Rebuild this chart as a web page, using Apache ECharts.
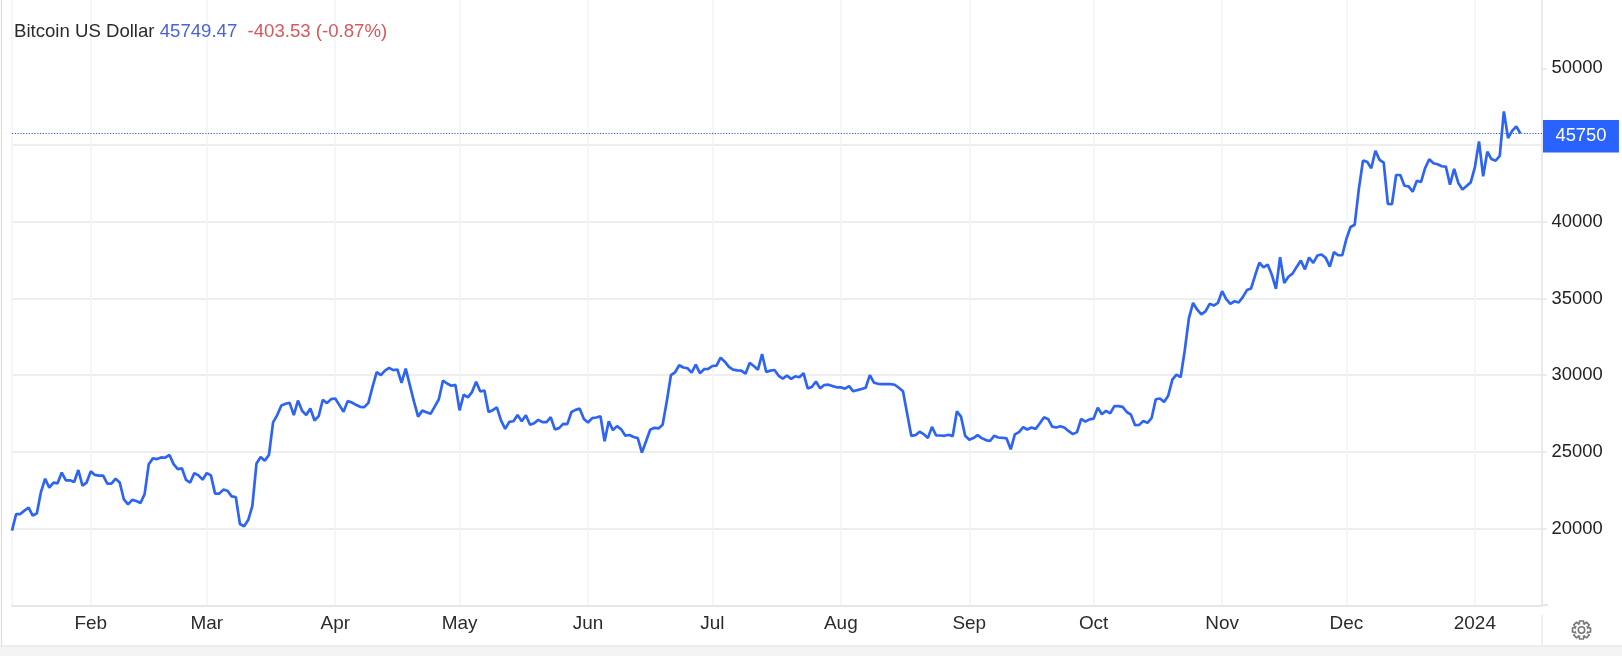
<!DOCTYPE html>
<html>
<head>
<meta charset="utf-8">
<style>html,body{margin:0;padding:0;background:#fff}#c{width:1622px;height:656px}</style>
<script src="https://cdn.jsdelivr.net/npm/echarts@6/dist/echarts.min.js"></script>
</head>
<body>
<div id="c"></div>
<script>
const startDate = '2023-01-13';
const valuesJanApr = [19870,20950,20950,21170,21370,20850,21000,22400,23250,22670,
23000,22950,23650,23150,23150,23040,23820,22800,23000,23730,
23500,23450,23450,22930,22930,23250,23000,21900,21580,21870,
21800,21670,22250,24200,24580,24530,24640,24620,24800,24200,
23880,23930,23170,23000,23620,23470,23190,23620,23470,22280,
22280,22540,22470,22100,22060,20300,20150,20560,21480,24250,
24670,24430,24800,26920,27400,28030,28140,28200,27400,28350,
27680,27400,27830,27050,27330,28400,28180,28440,28480,28050,
27620,28310,28220,28070,27940,27920,28200,29240,30200,30000,
30300,30480,30330,30370];
const valuesAprJul = [29500,30430,29350,28280,27300,27690,27590,27480,27950,28430,
29650,29460,29310,29370,27710,28730,28560,28900,29570,28940,
29000,27600,27720,27900,27050,26500,26960,27000,27410,27000,
27390,26770,26870,27090,26940,26940,27260,26470,26550,26830,
26810,27600,27740,27820,27150,26920,27200,27240,27330,25690,
27000,26420,26680,26470,26060,26100,25970,25900,24960,25690,
26440,26570,26530,26770,28280,30000,30190,30650,30500,30450,
30170,30690,30130,30390,30410,30600,30620,31140,30880,30540,
30360,30320,30300,30100,30800,30600,30360,31380,30210,30300,
30340,29960,29780,29980,29760,29930,29870];
const valuesJulOct = [30130,29140,29230,29590,29140,29360,29380,29290,29210,
29210,29120,29290,28950,29030,29100,29180,30000,29510,29440,
29420,29420,29420,29380,29180,28950,27510,26050,26090,26310,
26160,25900,26630,26070,26070,26050,26120,26030,27640,27300,
26050,25790,25900,26090,25900,25770,25710,26050,25940,25920,
25880,25170,26140,26290,26610,26460,26590,26500,26850,27250,
27150,26650,26590,26670,26570,26350,26160,26290,27150,26970,
27120,27170,27880,27450,27680,27510,27980,27980,27940,27600,
27430,26740,26760,27020,26890,27210,28430,28480,
28260,28660,29710,30040,29870,31630,33720,34710,34270,33970,34160,34650,34540,34710];
const valuesNovJan = [35480,34960,34650,34820,34740,35090,35550,35660,36530,37340,
37030,37210,36550,35630,37690,36010,36420,36620,37060,37470,
36900,37670,37320,37800,37870,37650,37080,38020,37820,37820,
38890,39660,39810,42130,43990,43910,43490,44630,44040,43860,
41170,41150,43050,43050,42350,42310,41960,42680,42590,43510,
44080,43820,43750,43620,43600,42420,43450,42530,42110,42330,
42570,43550,45240,42960,44570,44090,43980,44300,47200,45460,45930,46220,45749.47];
const monthLabels = ['Jan','Feb','Mar','Apr','May','Jun','Jul','Aug','Sep','Oct','Nov','Dec'];
const tickValues = [20000,25000,30000,35000,40000,45000,50000];
const lastLabel = '45750';
const lastLevel = 45750;
const titleName = 'Bitcoin US Dollar';
const titlePrice = '45749.47';
const titleChange = '-403.53 (-0.87%)';

const DAY = 86400000;
const t0 = Date.parse(startDate + 'T00:00:00Z');
const allValues = valuesJanApr.concat(valuesAprJul, valuesJulOct, valuesNovJan);
const seriesData = allValues.map((v, i) => [t0 + i * DAY, v]);

// gear outline
function gearPoints(cx, cy) {
  const pts = [], teeth = 8, ro = 9.2, ri = 6.6;
  for (let i = 0; i < teeth; i++) {
    const a = i * 2 * Math.PI / teeth, w = 0.2, s = 0.42;
    pts.push([cx + ri * Math.cos(a - s), cy + ri * Math.sin(a - s)]);
    pts.push([cx + ro * Math.cos(a - w), cy + ro * Math.sin(a - w)]);
    pts.push([cx + ro * Math.cos(a + w), cy + ro * Math.sin(a + w)]);
    pts.push([cx + ri * Math.cos(a + s), cy + ri * Math.sin(a + s)]);
  }
  return pts;
}

const chart = echarts.init(document.getElementById('c'), null, {renderer: 'canvas', width: 1622, height: 656});
const FONT = '"Liberation Sans", Arial, sans-serif';
const FS = 18.4;
const TS = 18.95;
const HS = 18.6;
chart.setOption({
  animation: false,
  useUTC: true,
  backgroundColor: '#ffffff',
  title: {
    left: 14, top: 22.5, padding: 0,
    text: '{a|' + titleName + ' }{b|' + titlePrice + '}{c|  ' + titleChange + '}',
    textStyle: {
      fontFamily: FONT, fontWeight: 'normal', fontSize: HS,
      rich: {
        a: {color: '#2b2b2b', fontSize: HS, fontFamily: FONT},
        b: {color: '#4a63d8', fontSize: HS, fontFamily: FONT},
        c: {color: '#d9575a', fontSize: HS, fontFamily: FONT}
      }
    }
  },
  grid: {left: 12, top: 0, width: 1530, height: 605.3, containLabel: false},
  xAxis: {
    type: 'time',
    min: t0,
    max: t0 + 369.2 * DAY,
    splitNumber: 12,
    axisLine: {show: true, lineStyle: {color: '#e6e6e6', width: 2}},
    axisTick: {show: false},
    splitLine: {show: true, lineStyle: {color: '#f0f3f7', width: 1.5}},
    minorTick: {show: false},
    axisLabel: {
      color: '#2b2b2b', fontFamily: FONT, fontSize: TS, margin: 8.5,
      showMinLabel: false, showMaxLabel: false, hideOverlap: false,
      formatter: function (v) {
        const d = new Date(v);
        if (d.getUTCDate() !== 1) return '';
        return d.getUTCMonth() === 0 ? String(d.getUTCFullYear()) : monthLabels[d.getUTCMonth()];
      }
    }
  },
  yAxis: {
    type: 'value',
    position: 'right',
    min: 15000, max: 54459, interval: 5000,
    axisLine: {show: true, lineStyle: {color: '#e6e6e6', width: 1.5}},
    axisTick: {show: true, length: 5, customValues: tickValues, lineStyle: {color: '#e6e6e6', width: 1.5}},
    splitLine: {show: true, showMaxLine: false, lineStyle: {color: '#e8e8e8', width: 1.5}},
    axisLabel: {
      color: '#222222', fontFamily: FONT, fontSize: FS, margin: 9.5, padding: [0, 0, 2, 0],
      formatter: function (v) { return (v >= 20000 && v <= 50000) ? String(v) : ''; }
    }
  },
  series: [{
    type: 'line',
    data: seriesData,
    showSymbol: false,
    symbol: 'none',
    smooth: false,
    lineStyle: {color: '#2d64f2', width: 2.7},
    clip: false,
    markLine: {
      silent: true,
      symbol: 'none',
      animation: false,
      precision: 0,
      lineStyle: {color: '#2a5fe6', type: [1.2, 1.6], width: 1.2},
      label: {
        show: true, position: 'end', formatter: lastLabel, distance: 1,
        offset: [0, 2.6],
        color: '#ffffff', backgroundColor: '#2962ff', fontFamily: FONT, fontSize: FS,
        lineHeight: 18, padding: [7.3, 12.4, 7.3, 12.4]
      },
      data: [{yAxis: lastLevel}]
    }
  }],
  graphic: [
    {type: 'line', silent: true, shape: {x1: 1.5, y1: 0, x2: 1.5, y2: 646}, style: {stroke: '#dcdcdc', lineWidth: 1.2}},
    {type: 'line', silent: true, shape: {x1: 1542, y1: 605, x2: 1548, y2: 605}, style: {stroke: '#e6e6e6', lineWidth: 2}},
    {type: 'line', silent: true, shape: {x1: 1542, y1: 615, x2: 1542, y2: 646}, style: {stroke: '#e6e6e6', lineWidth: 1.2}},
    {type: 'rect', silent: true, shape: {x: 0, y: 646, width: 1622, height: 10}, style: {fill: '#f4f4f4'}},
    {type: 'line', silent: true, shape: {x1: 0, y1: 646, x2: 1622, y2: 646}, style: {stroke: '#e2e2e2', lineWidth: 1.2}},
    {type: 'polygon', silent: true, shape: {points: gearPoints(1581.5, 630)}, style: {fill: '#fff', stroke: '#777', lineWidth: 1.6}},
    {type: 'circle', silent: true, shape: {cx: 1581.5, cy: 630, r: 3.2}, style: {fill: '#fff', stroke: '#777', lineWidth: 1.6}}
  ]
});
</script>
</body>
</html>
